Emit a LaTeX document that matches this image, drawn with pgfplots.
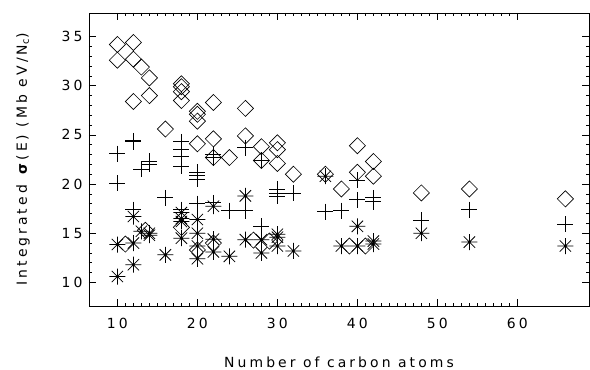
\documentclass[border=0pt]{standalone}
\usepackage{fontspec}
\setmainfont{DejaVu Sans}[LetterSpace=22]
\usepackage{pgfplots}
\pgfplotsset{compat=1.18}
\pgfdeclareplotmark{star8}{%
  \pgfpathmoveto{\pgfqpointpolar{0}{\pgfplotmarksize}}\pgfpathlineto{\pgfqpointpolar{180}{\pgfplotmarksize}}%
  \pgfpathmoveto{\pgfqpointpolar{90}{\pgfplotmarksize}}\pgfpathlineto{\pgfqpointpolar{270}{\pgfplotmarksize}}%
  \pgfpathmoveto{\pgfqpointpolar{45}{\pgfplotmarksize}}\pgfpathlineto{\pgfqpointpolar{225}{\pgfplotmarksize}}%
  \pgfpathmoveto{\pgfqpointpolar{135}{\pgfplotmarksize}}\pgfpathlineto{\pgfqpointpolar{315}{\pgfplotmarksize}}%
  \pgfusepathqstroke}
\begin{document}
\begin{tikzpicture}
\useasboundingbox (-89bp,-64bp) rectangle (501bp,306bp);
\begin{axis}[
  scale only axis, width=500bp, height=293bp,
  xmin=6.45, xmax=68.95, ymin=7.6, ymax=37.4,
  xtick={10,20,...,60}, ytick={10,15,...,35},
  minor x tick num=9, minor y tick num=4,
  tick align=inside, xtick pos=both, ytick pos=both,
  xticklabel pos=lower, yticklabel pos=left,
  major tick length=7bp, minor tick length=3.5bp,
  every tick/.style={black, line width=0.6bp},
  axis line style={line width=0.8bp},
  /pgf/number format/assume math mode=true,
  font=\fontsize{14}{16}\selectfont,
  xticklabel style={yshift=-9bp},
  yticklabel style={xshift=-3bp},
  xlabel={Number of carbon atoms},
  ylabel={Integrated \textbf{σ}(E) (Mb eV/N\textsubscript{c})},
  xlabel style={at={(axis description cs:0.5,-0.191)}, anchor=center},
  ylabel style={at={(axis description cs:-0.132,0.5)}, anchor=center},
  clip=false,
]
% diamonds
\addplot[only marks, mark=square, mark size=5.7bp, line width=0.65bp, every mark/.append style={rotate=45}] coordinates {
(10,34.2)(10,32.6)(12,34.4)(12,32.7)(13,31.9)(14,30.8)(14,29.0)(12,28.4)(16,25.6)
(18,30.2)(18,29.9)(18,29.4)(18,28.5)(20,27.4)(20,27.1)(20,26.4)(20,24.1)
(22,28.3)(22,24.6)(22,22.7)(24,22.7)(26,27.7)(26,24.9)(28,23.8)(28,22.4)
(30,24.2)(30,23.5)(30,22.1)(32,21.0)(36,21.0)(38,19.5)(40,23.9)(40,21.2)
(42,22.3)(42,20.8)(48,19.1)(54,19.5)(66,18.5)
(11,13.9)(13.5,15.3)(18,15.6)(20,13.3)(22,14.0)(27,14.3)(29,14.2)(39,13.7)(41,13.7)
};
% pluses
\addplot[only marks, mark=+, mark size=8bp, line width=0.75bp] coordinates {
(10,23.1)(10,20.1)(12,24.4)(12,24.3)(13,21.5)(14,22.3)(14,22.0)(12,17.4)(16,18.6)
(18,24.3)(18,23.5)(18,22.8)(18,21.8)(18,17.4)(20,21.2)(20,20.9)(20,20.5)(20,18.0)
(22,23.0)(22,22.7)(22,18.1)(24,17.3)(26,23.7)(26,17.3)(28,22.4)(28,15.7)
(30,19.5)(30,19.1)(30,18.8)(32,19.1)(36,17.2)(38,17.3)(40,20.4)(40,18.4)
(42,18.6)(42,18.2)(48,16.3)(54,17.4)(66,15.9)
};
% asterisks
\addplot[only marks, mark=star8, mark size=8bp, line width=0.75bp] coordinates {
(10,10.6)(10,13.85)(12,11.8)(12,14.0)(12,16.7)(13,15.2)(14,15.0)(14,14.8)(16,12.8)
(18,17.1)(18,16.5)(18,16.2)(18,14.5)(20,16.4)(20,15.0)(20,13.7)(20,12.4)
(22,17.75)(22,14.4)(22,13.1)(24,12.65)(26,18.8)(26,14.35)(28,14.35)(28,13.0)
(30,14.9)(30,14.6)(30,13.7)(32,13.2)(36,20.8)(38,13.7)(40,15.7)(40,13.7)
(42,14.2)(42,13.9)(48,15.0)(54,14.1)(66,13.7)
};
\end{axis}
\end{tikzpicture}
\end{document}
